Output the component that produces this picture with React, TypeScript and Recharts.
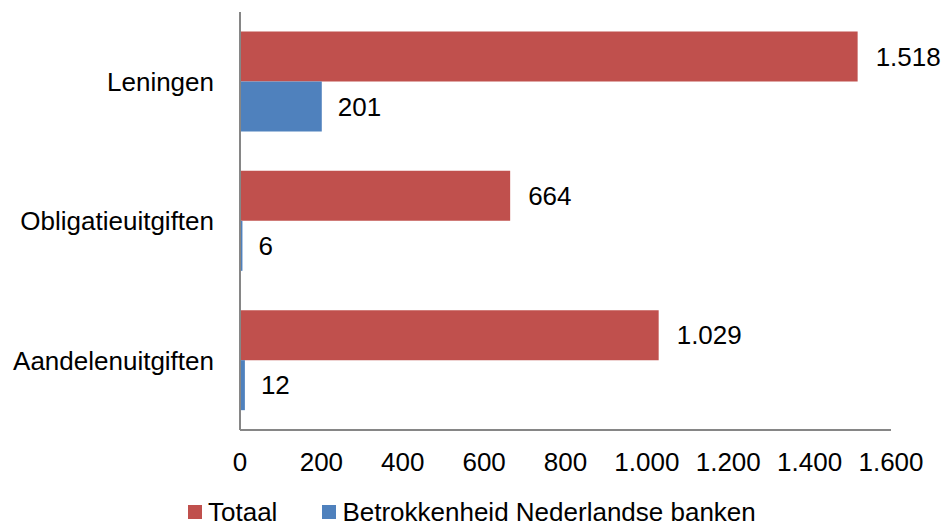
import { BarChart, Bar, XAxis, YAxis, LabelList } from "recharts";

const categories = ["Leningen", "Obligatieuitgiften", "Aandelenuitgiften"];
const totaal = [1518, 664, 1029];
const betrokkenheid = [201, 6, 12];
const xTicks = [0, 200, 400, 600, 800, 1000, 1200, 1400, 1600];

const data = categories.map((name, i) => ({
  name,
  totaal: totaal[i],
  betrokkenheid: betrokkenheid[i],
}));

const RED = "#C0504D";
const BLUE = "#4F81BD";
const AXIS = "#868686";
const FONT = "'Liberation Sans', Arial, sans-serif";
const FS = 26;

// dutch thousands separator: 1518 -> 1.518
const fmt = (v: any) => String(v).replace(/\B(?=(\d{3})+(?!\d))/g, ".");

const legendItems = [
  { label: "Totaal", color: RED },
  { label: "Betrokkenheid Nederlandse banken", color: BLUE },
];

export default function App() {
  return (
    <div
      style={{
        position: "absolute",
        left: 0,
        top: 0,
        width: 943,
        height: 526,
        background: "#fff",
        fontFamily: FONT,
      }}
    >
      <BarChart
        width={943}
        height={526}
        data={data}
        layout="vertical"
        margin={{ top: 12, right: 52, left: 0, bottom: 36 }}
        barCategoryGap="14%"
        barGap={0}
      >
        <XAxis
          type="number"
          domain={[0, 1600]}
          ticks={xTicks}
          tickFormatter={fmt}
          height={60}
          axisLine={{ stroke: AXIS, strokeWidth: 2 }}
          tickLine={false}
          tickSize={0}
          tickMargin={23}
          tick={{ fill: "#000", fontSize: FS, fontFamily: FONT }}
          interval={0}
        />
        <YAxis
          type="category"
          dataKey="name"
          width={240}
          axisLine={{ stroke: AXIS, strokeWidth: 2 }}
          tickLine={false}
          tickSize={0}
          tickMargin={26}
          tick={{ fill: "#000", fontSize: FS, fontFamily: FONT }}
        />
        <Bar dataKey="totaal" fill={RED} isAnimationActive={false}>
          <LabelList
            dataKey="totaal"
            position="right"
            offset={18}
            formatter={fmt}
            style={{ fill: "#000", fontSize: FS, fontFamily: FONT }}
          />
        </Bar>
        <Bar dataKey="betrokkenheid" fill={BLUE} isAnimationActive={false}>
          <LabelList
            dataKey="betrokkenheid"
            position="right"
            offset={16}
            formatter={fmt}
            style={{ fill: "#000", fontSize: FS, fontFamily: FONT }}
          />
        </Bar>
      </BarChart>
      <div
        style={{
          position: "absolute",
          left: 188,
          top: 499,
          height: 26,
          lineHeight: "26px",
          display: "flex",
          alignItems: "center",
          gap: 45,
          fontSize: FS,
          color: "#000",
          whiteSpace: "nowrap",
        }}
      >
        {legendItems.map((it) => (
          <div key={it.label} style={{ display: "flex", alignItems: "center" }}>
            <span
              style={{
                display: "inline-block",
                width: 14,
                height: 14,
                background: it.color,
                marginRight: 6,
              }}
            />
            <span>{it.label}</span>
          </div>
        ))}
      </div>
    </div>
  );
}
